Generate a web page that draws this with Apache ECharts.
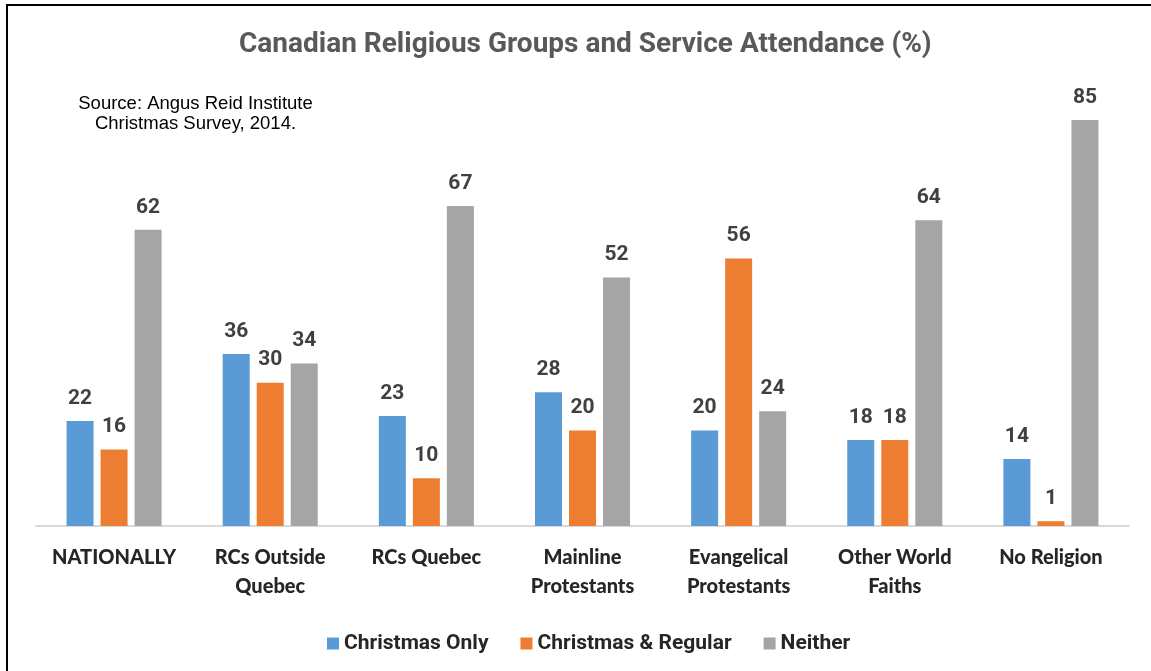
<!DOCTYPE html>
<html>
<head>
<meta charset="utf-8">
<script src="https://cdn.jsdelivr.net/npm/echarts@6/dist/echarts.min.js"></script>
<style>
  html, body { margin: 0; padding: 0; background: #fff; }
  #chart { width: 1151px; height: 671px; }
</style>
</head>
<body>
<div id="chart"></div>
<script>
// Religious groups shown along the x axis
const categories = [
  'NATIONALLY',
  'RCs Outside\nQuebec',
  'RCs Quebec',
  'Mainline\nProtestants',
  'Evangelical\nProtestants',
  'Other World\nFaiths',
  'No Religion'
];

// Share of each group (%) by attendance pattern
const christmasOnly    = [22, 36, 23, 28, 20, 18, 14];
const christmasRegular = [16, 30, 10, 20, 56, 18, 1];
const neither          = [62, 34, 67, 52, 24, 64, 85];

const seriesNames = ['Christmas Only', 'Christmas & Regular', 'Neither'];
const colors = ['#5B9BD5', '#ED7D31', '#A5A5A5'];

const narrow = 'Roboto, "Liberation Sans", sans-serif';

const chart = echarts.init(document.getElementById('chart'), null, { renderer: 'canvas' });

function barSeries(name, data, color) {
  return {
    name: name,
    type: 'bar',
    data: data,
    barWidth: 27,
    barGap: '26%',
    itemStyle: { color: color },
    label: {
      show: true,
      position: 'top',
      distance: 12,
      fontFamily: narrow,
      fontWeight: 'bold',
      fontSize: 21,
      color: '#404040'
    }
  };
}

chart.setOption({
  animation: false,
  backgroundColor: '#ffffff',
  title: {
    text: 'Canadian Religious Groups and Service Attendance (%)',
    left: 234,
    top: 26,
    textStyle: {
      fontFamily: narrow,
      fontWeight: 'bold',
      fontSize: 28,
      color: '#595959'
    }
  },
  graphic: [
    {
      type: 'rect',
      shape: { x: 7, y: 5, width: 2000, height: 2000 },
      style: { fill: null, stroke: '#000', lineWidth: 2 },
      silent: true
    },
    {
      type: 'text',
      x: 195.5,
      y: 94,
      style: {
        text: 'Source: Angus Reid Institute\nChristmas Survey, 2014.',
        font: '18.5px "Liberation Sans", Arial, sans-serif',
        lineHeight: 20,
        align: 'center',
        verticalAlign: 'top',
        fill: '#000'
      }
    }
  ],
  legend: {
    data: seriesNames,
    left: 322,
    top: 628,
    itemWidth: 12,
    itemHeight: 12,
    itemGap: 32,
    icon: 'rect',
    textStyle: {
      fontFamily: narrow,
      fontWeight: 'bold',
      fontSize: 21,
      color: '#262626'
    }
  },
  grid: {
    left: 36,
    right: 22,
    top: 96,
    bottom: 145,
    containLabel: false
  },
  xAxis: {
    type: 'category',
    data: categories,
    axisLine: { lineStyle: { color: '#D9D9D9', width: 2 } },
    axisTick: { show: false },
    axisLabel: {
      interval: 0,
      margin: 17,
      lineHeight: 29,
      fontFamily: 'Lato, "Open Sans", sans-serif',
      fontWeight: 900,
      fontSize: 20,
      color: '#262626'
    }
  },
  yAxis: {
    type: 'value',
    min: 0,
    max: 90,
    show: false,
    splitLine: { show: false }
  },
  series: [
    barSeries(seriesNames[0], christmasOnly, colors[0]),
    barSeries(seriesNames[1], christmasRegular, colors[1]),
    barSeries(seriesNames[2], neither, colors[2])
  ]
});
</script>
</body>
</html>
